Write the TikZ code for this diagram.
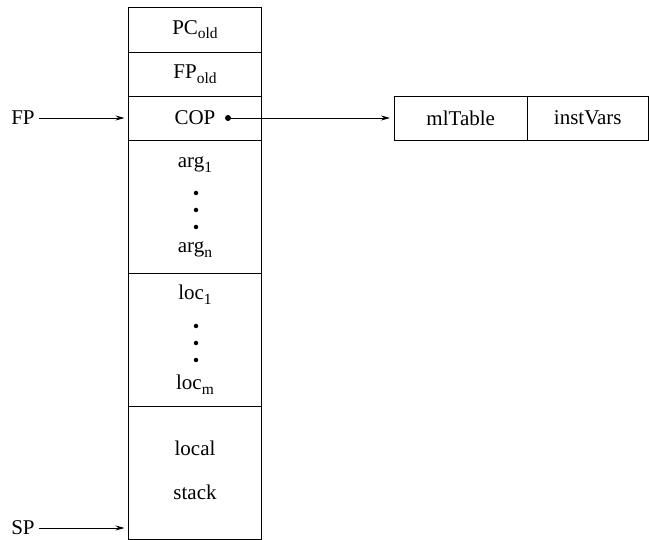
\documentclass[tikz,border=0pt]{standalone}
\usepackage{fontspec}
\setmainfont{Liberation Serif}
\usetikzlibrary{positioning,arrows.meta}

\newcommand\lowsub[1]{\raisebox{-0.22em}{\fontsize{15.5}{18}\selectfont #1}}

\tikzset{
  cell/.style={draw, line width=0.9pt, minimum width=133pt, minimum height=44pt,
    inner sep=0pt, outer sep=0pt},
  bigcell/.style={cell, minimum height=133pt},
  vdot/.style={circle, fill, inner sep=0pt, minimum size=4.5pt},
  ptr/.style={line width=0.8pt, -{Stealth[length=9pt,width=5pt,inset=3pt]},
    shorten >=4pt, shorten <=3pt},
  reg/.style={inner sep=1pt},
}

\begin{document}
\begin{tikzpicture}[x=1pt, y=-1pt, font=\fontsize{21}{25}\selectfont]
    \useasboundingbox (0,0) rectangle (649,540);

    % Define nodes
    \node[cell, minimum height=45pt] (pc) at (195,29.5) {PC\lowsub{old}};
    \node[cell, below=0pt of pc]   (fpold) {FP\lowsub{old}};
    \node[cell, below=0pt of fpold] (cop)  {COP};
    \node[bigcell, below=0pt of cop]  (args)  {};
    \node[bigcell, below=0pt of args] (locs)  {};
    \node[bigcell, below=0pt of locs] (stk)   {};

    \node[anchor=base] (arg1) at (195,168) {arg\lowsub{1}};
    \foreach \y [count=\i] in {193,210,227}
        \node[vdot] (adot\i) at (196,\y) {};
    \node[anchor=base] (argn) at (195,253) {arg\lowsub{n}};

    \node[anchor=base] (loc1) at (195,300) {loc\lowsub{1}};
    \foreach \y [count=\i] in {326,343,360}
        \node[vdot] (ldot\i) at (196,\y) {};
    \node[anchor=base] (locm) at (195,390) {loc\lowsub{m}};

    \node[anchor=base] (local) at (195,456) {local};
    \node[anchor=base] (stack) at (195,500) {stack};

    \node[cell, minimum width=133.5pt] (mltable) at (460.75,118) {mlTable};
    \node[cell, minimum width=120.5pt, right=0pt of mltable] (instvars) {instVars};

    \node[reg] (fp) at (23,118) {FP};
    \node[reg] (sp) at (23,528) {SP};
    \coordinate (sptip) at (128.5,528);
    \node[vdot, minimum size=6pt] (cptr) at (228,118) {};

    % Connect nodes
    \draw[ptr] (fp) -- (cop);
    \draw[ptr] (sp) -- (sptip);
    \draw[ptr, shorten <=0pt] (cptr) -- (mltable);
\end{tikzpicture}
\end{document}
